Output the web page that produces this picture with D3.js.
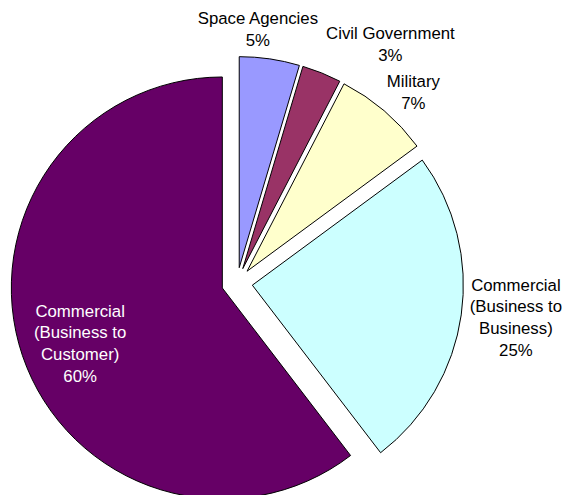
<!DOCTYPE html>
<html><head><meta charset="utf-8">
<script src="https://cdn.jsdelivr.net/npm/d3@7"></script>
<style>body{margin:0;background:#fff}svg{display:block}</style>
</head><body>
<script>
const categories = ["Space Agencies", "Civil Government", "Military", "Commercial (Business to Business)", "Commercial (Business to Customer)"];
const labelLines = [["Space Agencies"], ["Civil Government"], ["Military"], ["Commercial", "(Business to", "Business)"], ["Commercial", "(Business to", "Customer)"]];
const values = [4.6, 3.0, 7.3, 24.7, 60.4];
const percentLabels = ["5%", "3%", "7%", "25%", "60%"];
const colors = ["#9999FF", "#993366", "#FFFFCC", "#CCFFFF", "#660066"];
const textColors = ["#000", "#000", "#000", "#000", "#fff"];

const W = 564, H = 495;
const cx = 237, cy = 283, R = 211, explode = 15.5;
// label placement (polar, relative to pie centre): angle in degrees clockwise from top, distance
const labelPolar = [[4.7, 255], [32.7, 284], [42.7, 260], [97, 281], [249, 168]];

const svg = d3.select("body").append("svg").attr("width", W).attr("height", H);
const pie = d3.pie().sort(null).value(d => d)(values);
const arc = d3.arc().innerRadius(0).outerRadius(R);
const g = svg.append("g").attr("transform", `translate(${cx},${cy})`);

g.selectAll("path").data(pie).join("path")
  .attr("d", arc)
  .attr("fill", (d, i) => colors[i])
  .attr("stroke", "#000").attr("stroke-width", 1)
  .attr("stroke-linejoin", "miter")
  .attr("transform", d => {
    const a = (d.startAngle + d.endAngle) / 2;
    return `translate(${explode * Math.sin(a)},${-explode * Math.cos(a)})`;
  });

const lh = 21.7;
pie.forEach((d, i) => {
  const [ang, dist] = labelPolar[i];
  const a = ang * Math.PI / 180;
  const x = cx + dist * Math.sin(a), y = cy - dist * Math.cos(a);
  const lines = labelLines[i].concat([percentLabels[i]]);
  const t = svg.append("text")
    .attr("text-anchor", "middle")
    .attr("font-family", "Liberation Sans, Arial, sans-serif")
    .attr("font-size", 16.8)
    .attr("fill", textColors[i]);
  const y0 = y - (lines.length - 1) * lh / 2;
  lines.forEach((l, k) => {
    t.append("tspan").attr("x", x).attr("y", y0 + k * lh).attr("dy", "0.35em").text(l);
  });
});
</script>
</body></html>
